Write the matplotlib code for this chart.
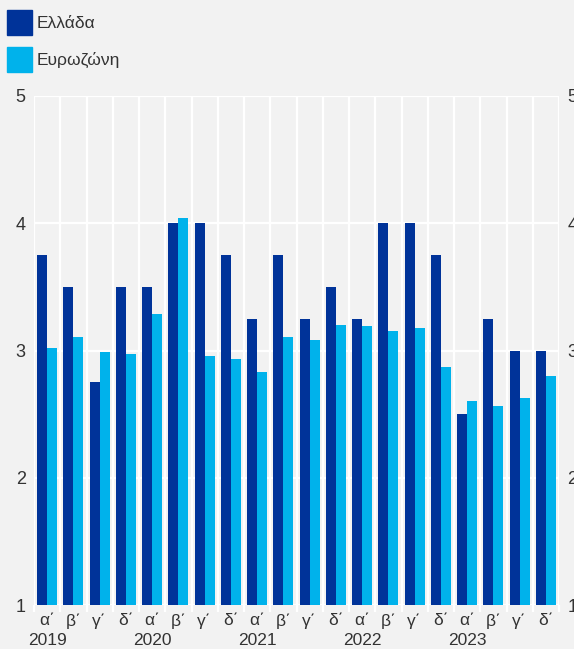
import numpy as np
import matplotlib.pyplot as plt

plt.rcParams['font.family'] = ['Liberation Sans', 'DejaVu Sans']

# -------------------- data --------------------
quarters = ['α΄', 'β΄', 'γ΄', 'δ΄'] * 5
years = ['2019', '2020', '2021', '2022', '2023']
greece = [3.75, 3.5, 2.75, 3.5, 3.5, 4.0, 4.0, 3.75, 3.25, 3.75,
          3.25, 3.5, 3.25, 4.0, 4.0, 3.75, 2.5, 3.25, 3.0, 3.0]
eurozone = [3.02, 3.11, 2.99, 2.97, 3.29, 4.04, 2.96, 2.93, 2.83, 3.11,
            3.08, 3.20, 3.19, 3.15, 3.18, 2.87, 2.60, 2.56, 2.63, 2.80]

c_gr = '#003399'
c_ez = '#00b2eb'
bg = '#f2f2f2'
txt = '#333333'

# -------------------- plot --------------------
fig = plt.figure(figsize=(5.74, 6.49), dpi=100, facecolor=bg)
ax = fig.add_axes([34/574, 1 - 605/649, 525/574, 509/649], facecolor=bg)

n = len(greece)
x = np.arange(n)
w = 0.38
ax.bar(x - w/2, greece, width=w, color=c_gr, zorder=3)
ax.bar(x + w/2, eurozone, width=w, color=c_ez, zorder=3)

ax.set_xlim(-0.5, n - 0.5)
ax.set_ylim(1, 5)
ax.set_yticks([1, 2, 3, 4, 5])

# grid: horizontal at ticks, vertical at category boundaries
for yv in [1, 2, 3, 4, 5]:
    ax.axhline(yv, color='white', lw=1.6, zorder=1)
for b in np.arange(-0.5, n, 1.0):
    ax.axvline(b, color='white', lw=1.6, zorder=1)

for s in ax.spines.values():
    s.set_visible(False)

ax.set_xticks(x)
ax.set_xticklabels(quarters, fontsize=12.5, color=txt)
ax.tick_params(axis='x', length=0, pad=6)
ax.set_xticks(np.arange(-0.5, n, 1.0), minor=True)
ax.tick_params(axis='x', which='minor', length=5, color='white', width=1.6)

ax.tick_params(axis='y', length=0, labelsize=13, labelcolor=txt,
               labelleft=True, labelright=True, pad=6)

for i, yr in enumerate(years):
    ax.text(i * 4, -0.069, yr, transform=ax.get_xaxis_transform(),
            ha='center', va='center', fontsize=12.5, color=txt)

# legend
fig.patches.append(plt.Rectangle((7/574, 1 - 35/649), 25/574, 25/649,
                                 transform=fig.transFigure, color=c_gr))
fig.patches.append(plt.Rectangle((7/574, 1 - 72/649), 25/574, 25/649,
                                 transform=fig.transFigure, color=c_ez))
fig.text(37/574, 1 - 23/649, 'Ελλάδα', ha='left', va='center', fontsize=12.5, color=txt)
fig.text(37/574, 1 - 60/649, 'Ευρωζώνη', ha='left', va='center', fontsize=12.5, color=txt)

fig.savefig('out.png', dpi=100, facecolor=bg)
